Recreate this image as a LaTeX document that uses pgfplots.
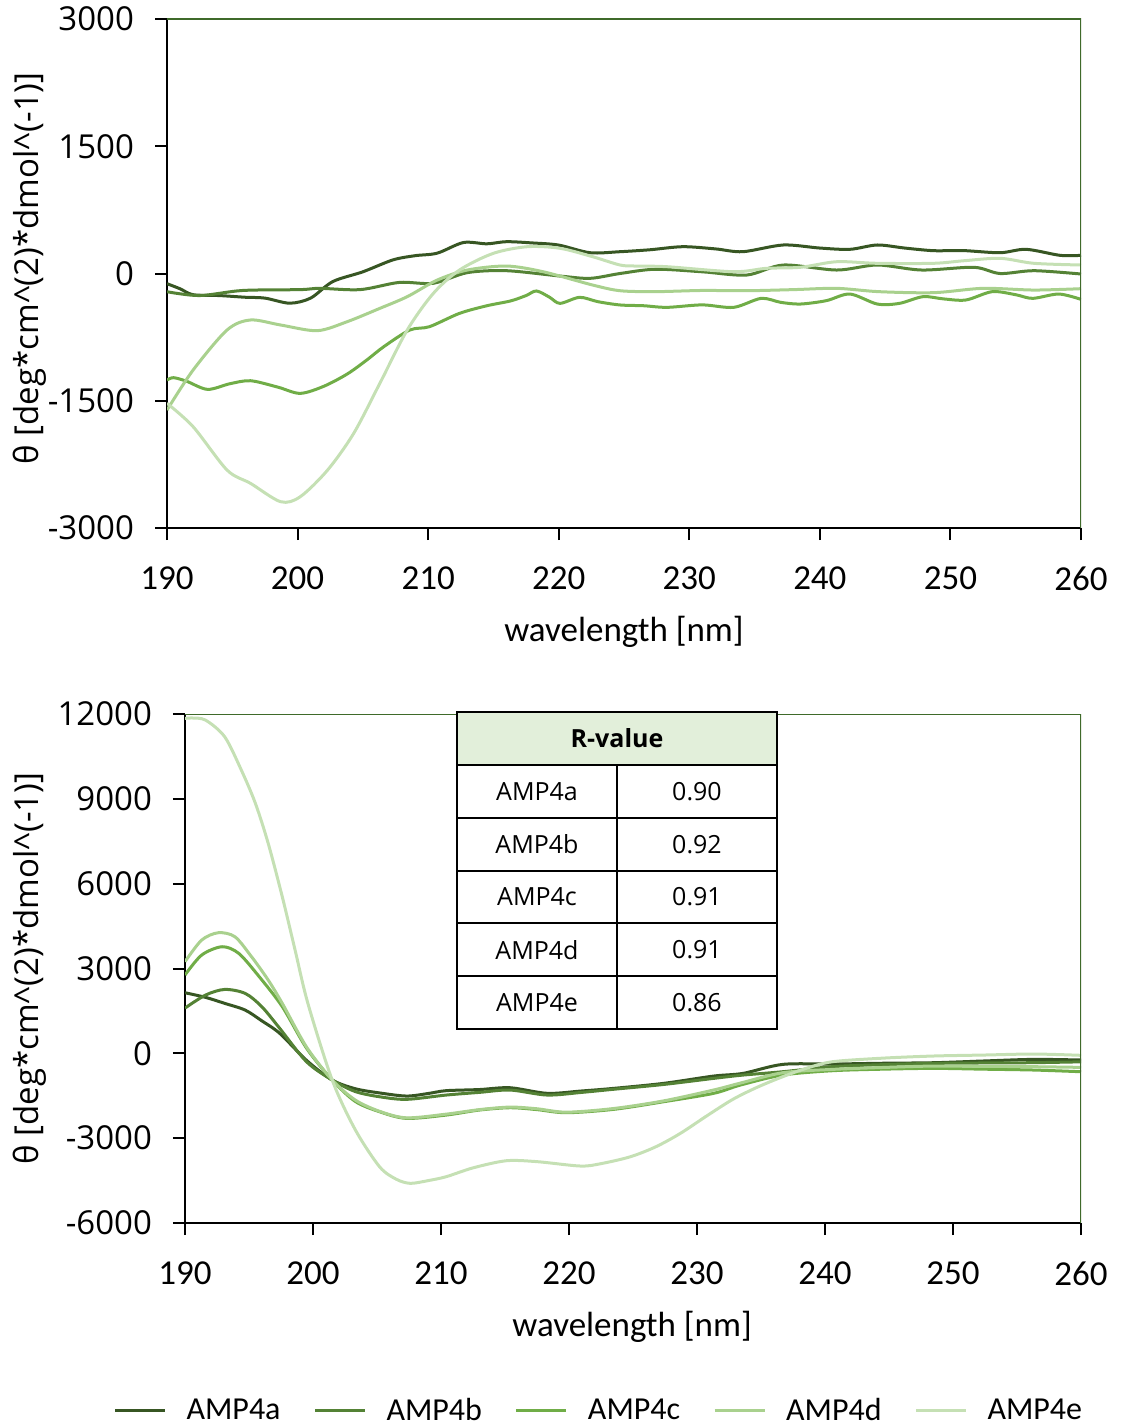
\documentclass[border=0pt]{standalone}
\usepackage{fontspec}
\setmainfont{Carlito}
\newfontfamily\osans{Open Sans}
\usepackage{pgfplots}
\pgfplotsset{compat=1.18}
\definecolor{ca}{HTML}{375623}
\definecolor{cb}{HTML}{548235}
\definecolor{cc}{HTML}{70AD47}
\definecolor{cd}{HTML}{A9D18E}
\definecolor{ce}{HTML}{C5E0B4}
\definecolor{cg}{HTML}{3F6A2A}
\definecolor{hdr}{HTML}{E2EFDA}
\pgfplotsset{
 mystyle/.style={
  scale only axis, height=254.5pt,
  xmin=190, xmax=260, xtick={190,200,...,260},
  axis lines=left, axis line style={-, line width=1pt, black},
  tick align=outside, major tick length=6pt, tick style={black, line width=1pt},
  /pgf/number format/assume math mode=true, /pgf/number format/1000 sep={},
  scaled y ticks=false, scaled x ticks=false,
  xticklabel style={font=\fontsize{17.5}{20}\selectfont, yshift=-10pt},
  yticklabel style={font=\osans\fontsize{16.5}{19}\selectfont, xshift=-7pt},
  xlabel={wavelength [nm]},
  ylabel={θ [deg*cm\textasciicircum(2)*dmol\textasciicircum(-1)]},
  xlabel style={font=\fontsize{17.5}{20}\selectfont, anchor=center},
  ylabel style={font=\osans\fontsize{16.5}{19}\selectfont, anchor=center},
  every axis plot/.append style={line width=1.5pt, smooth, no markers},
 }
}
\begin{document}
\begin{tikzpicture}
\path[use as bounding box] (0,0) rectangle (560.5pt,-713.5pt);
% ---------------- top axis
\begin{axis}[mystyle, at={(83.5pt,-264pt)}, anchor=south west, width=457pt,
  ymin=-3000, ymax=3000, ytick={-3000,-1500,0,1500,3000},
  xlabel style={at={(rel axis cs:0.5,-0.204)}},
  ylabel style={at={(rel axis cs:-0.15,0.51)}}]
\addplot[ca] coordinates {(190,-120)(191,-180)(192,-250)(194,-260)(196,-280)(197.5,-290)(199.4,-350)(201,-290)(202.7,-95)(205,20)(207.3,160)(209,210)(210.7,240)(212.7,365)(214.5,350)(216,375)(218,360)(220,335)(222.4,245)(224.7,257)(227,280)(229.5,316)(232,290)(234.1,257)(237.2,336)(240,300)(242.3,285)(244.4,336)(246.5,300)(248.7,269)(251,270)(253.8,245)(255.8,285)(258.4,214)(260,214)};
\addplot[cb] coordinates {(190,-215)(192.5,-260)(195.8,-200)(200.2,-190)(201.7,-175)(204.8,-190)(207.8,-105)(210.4,-115)(213,10)(216,33)(220.1,-30)(222.4,-57)(224.7,0)(227.4,50)(231,20)(234.4,-18)(237.2,100)(241.3,41)(244.4,100)(247.8,41)(251.8,73)(253.8,0)(256.4,33)(260,-6)};
\addplot[cc] coordinates {(190,-1256)(190.5,-1228)(191.5,-1270)(193.1,-1366)(194.8,-1300)(196.4,-1264)(198.5,-1340)(200.2,-1413)(202,-1330)(203.8,-1185)(205.3,-1020)(206.6,-863)(208.6,-666)(210.1,-627)(212.4,-470)(214.5,-380)(216.3,-324)(217.5,-260)(218.3,-206)(219.3,-280)(220.1,-352)(221.6,-281)(223,-332)(224.7,-371)(226.5,-380)(228.3,-399)(231,-370)(233.4,-399)(235.5,-293)(237,-340)(238.5,-360)(240.5,-320)(242.3,-242)(244.4,-360)(246.1,-352)(247.9,-273)(249.5,-300)(251.2,-312)(253.2,-214)(255,-250)(256.3,-293)(258.3,-242)(260,-305)};
\addplot[cd] coordinates {(190,-1610)(192,-1138)(194.6,-666)(196.4,-548)(198.7,-607)(201.5,-674)(203.8,-568)(206.3,-411)(208.4,-273)(210.7,-77)(213,41)(216,88)(218.8,21)(222.6,-136)(224.7,-203)(227.4,-214)(231,-200)(234.4,-203)(238,-190)(241.3,-175)(244.5,-214)(248.7,-226)(252.5,-175)(256.4,-195)(260,-179)};
\addplot[ce] coordinates {(190,-1530)(192,-1806)(194.6,-2317)(196.4,-2474)(198.7,-2690)(200.2,-2632)(202.3,-2317)(204.3,-1884)(206.3,-1295)(208.4,-666)(210.4,-234)(212.4,41)(215,238)(217.6,316)(220.1,297)(222.6,198)(224.7,100)(225.9,88)(228.3,80)(233.4,21)(235.9,61)(238.5,73)(241.3,139)(244.4,120)(248.7,120)(251,150)(253.8,179)(256.4,120)(260,100)};
\draw[cg, line width=1.4pt] (rel axis cs:0,1) -- (rel axis cs:1,1) -- (rel axis cs:1,0);
\end{axis}
% ---------------- bottom axis
\begin{axis}[mystyle, at={(92.5pt,-611.5pt)}, anchor=south west, width=448pt,
  ymin=-6000, ymax=12000, ytick={-6000,-3000,0,3000,6000,9000,12000},
  xlabel style={at={(rel axis cs:0.499,-0.204)}},
  ylabel style={at={(rel axis cs:-0.173,0.5)}},
  legend columns=5,
  legend style={at={(rel axis cs:0.463,-0.369)}, anchor=center, draw=none, fill=none,
    font=\fontsize{16}{19}\selectfont,
    /tikz/every odd column/.append style={column sep=8pt},
    /tikz/every even column/.append style={column sep=14.5pt}},
  legend image code/.code={\draw[#1] (0pt,0pt) -- (25pt,0pt);}]
\addplot[ca] coordinates {(190,2143)(191.6,1980)(193.1,1768)(194.7,1530)(196,1150)(197.4,707)(199.5,-250)(201.5,-944)(203.3,-1250)(205.2,-1400)(207.3,-1510)(209,-1420)(210.4,-1320)(213,-1280)(215.4,-1216)(218.3,-1414)(221,-1330)(223.5,-1238)(227.4,-1061)(231.3,-803)(233.6,-708)(236.7,-390)(240.6,-378)(244.5,-350)(248.5,-331)(252.4,-270)(256.3,-213)(260,-236)};
\addlegendentry{AMP4a}
\addplot[cb] coordinates {(190,1600)(191.6,2060)(193.1,2260)(194.7,2120)(196,1650)(197.4,884)(199.5,-300)(201.5,-944)(203.3,-1350)(205.2,-1535)(207.3,-1627)(210.4,-1475)(213,-1380)(215.4,-1298)(218.3,-1475)(221,-1380)(223.5,-1270)(227.4,-1100)(231.3,-885)(233.6,-768)(236.7,-650)(240.6,-470)(244.5,-400)(248.5,-355)(252.4,-340)(256.3,-330)(260,-300)};
\addlegendentry{AMP4b}
\addplot[cc] coordinates {(190,2770)(191.3,3476)(192.9,3770)(194.2,3535)(195.8,2710)(197.6,1650)(199.5,180)(201.5,-944)(203.3,-1700)(205.2,-2065)(207.3,-2300)(210.4,-2183)(213,-2005)(215.4,-1923)(217.5,-1990)(219.8,-2100)(223.5,-1980)(227.4,-1711)(231.3,-1414)(233.4,-1120)(236.7,-767)(240.6,-614)(244.5,-560)(248.5,-531)(252.4,-560)(256.3,-590)(260,-650)};
\addlegendentry{AMP4c}
\addplot[cd] coordinates {(190,3240)(191.3,4005)(192.6,4265)(193.9,4123)(195.2,3416)(196.5,2592)(197.6,1768)(199.5,220)(201.5,-944)(203.3,-1650)(205.2,-2050)(207.3,-2280)(210.4,-2150)(213,-1990)(215.4,-1900)(217.5,-1960)(219.8,-2080)(223.5,-1950)(227.4,-1680)(231.3,-1296)(233.4,-1050)(236.7,-685)(240.6,-567)(244.5,-500)(248.5,-449)(252.4,-460)(256.3,-472)(260,-496)};
\addlegendentry{AMP4d}
\addplot[ce] coordinates {(190,11845)(190.5,11860)(191.6,11785)(193.1,11195)(194.4,10018)(195.5,8840)(196.5,7426)(197.6,5538)(198.6,3653)(199.6,1768)(201.5,-944)(203.3,-2700)(205.2,-4010)(206.5,-4450)(207.6,-4597)(209,-4500)(210.4,-4363)(212.5,-4050)(215.1,-3798)(217.5,-3830)(220.9,-3985)(222.5,-3900)(224.8,-3656)(226.8,-3300)(228.7,-2830)(230.8,-2200)(232.8,-1627)(234.7,-1200)(236.7,-826)(238.6,-520)(240.6,-295)(244.5,-170)(248.5,-94)(252.4,-60)(256.3,-24)(260,-70)};
\addlegendentry{AMP4e}
\draw[cg, line width=1.4pt] (rel axis cs:0,1) -- (rel axis cs:1,1) -- (rel axis cs:1,0);
\end{axis}
% ---------------- R-value table
\fill[hdr] (228.5pt,-356pt) rectangle (388.5pt,-382.5pt);
\fill[white] (228.5pt,-382.5pt) rectangle (388.5pt,-514.5pt);
\draw[black, line width=1pt] (228.5pt,-356pt) rectangle (388.5pt,-514.5pt);
\foreach \yy in {382.5,408.9,435.3,461.7,488.1} {\draw[black, line width=1pt] (228.5pt,-\yy pt) -- (388.5pt,-\yy pt);}
\draw[black, line width=1pt] (308.5pt,-382.5pt) -- (308.5pt,-514.5pt);
\node[font=\osans\bfseries\fontsize{12.5}{15}\selectfont] at (308.5pt,-369.25pt) {R-value};
\foreach \nm/\rv [count=\i] in {AMP4a/0.90,AMP4b/0.92,AMP4c/0.91,AMP4d/0.91,AMP4e/0.86} {
  \node[font=\osans\fontsize{12.5}{15}\selectfont] at (268.5pt,{-382.5pt-(\i-0.5)*26.4pt}) {\nm};
  \node[font=\osans\fontsize{12.5}{15}\selectfont] at (348.5pt,{-382.5pt-(\i-0.5)*26.4pt}) {\rv};
}
\end{tikzpicture}
\end{document}
